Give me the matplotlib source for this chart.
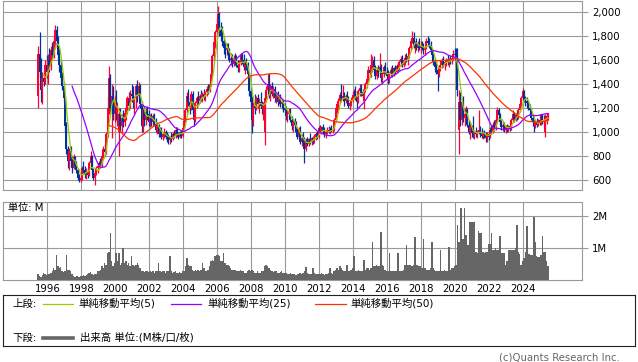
import numpy as np
import pandas as pd
import matplotlib
matplotlib.use("Agg")
import matplotlib.pyplot as plt
from matplotlib.lines import Line2D

plt.rcParams['font.family'] = ['DejaVu Sans', 'Noto Sans CJK JP']

# monthly candles, 1995-06 .. 2025-06 (one row per year)
opens = [
    1300, 1650, 1500, 1350, 1450, 1420, 1560,
    1500, 1600, 1550, 1680, 1640, 1760, 1850, 1760, 1640, 1560, 1450, 1380,
    1280, 1050, 860, 760, 840, 760, 700, 790, 720, 680, 620, 600,
    620, 700, 680, 650, 670, 640, 740, 800, 680, 620, 660, 700,
    720, 740, 720, 800, 860, 830, 980, 1200, 1450, 1200, 1300, 1150,
    1250, 1150, 1000, 1150, 1050, 1120, 1080, 1160, 1200, 1280, 1220, 1320,
    1300, 1250, 1280, 1380, 1300, 1380, 1230, 1050, 1180, 1100, 1170, 1150,
    1080, 1120, 1080, 1130, 1070, 1020, 1050, 980, 1020, 960, 980, 1000,
    960, 950, 930, 960, 940, 980, 970, 1020, 980, 960, 1000, 970,
    1030, 1090, 1180, 1300, 1250, 1200, 1320, 1180, 1100, 1240, 1280, 1260,
    1300, 1280, 1320, 1290, 1330, 1360, 1340, 1400, 1480, 1630, 1750, 1830,
    1900, 1980, 1850, 1800, 1760, 1700, 1680, 1700, 1650, 1600, 1620, 1570,
    1610, 1580, 1560, 1530, 1580, 1640, 1600, 1540, 1580, 1560, 1480, 1340,
    1250, 1100, 1220, 1200, 1280, 1230, 1250, 1220, 1190, 1000, 1280, 1350,
    1400, 1300, 1380, 1320, 1360, 1280, 1300, 1250, 1290, 1230, 1250, 1200,
    1180, 1130, 1150, 1170, 1100, 1050, 1080, 1060, 1000, 960, 1020, 920,
    950, 920, 860, 930, 900, 940, 920, 950, 930, 960, 980, 960,
    1030, 1010, 1040, 1010, 980, 1000, 1020, 1000, 1030, 1010, 1020, 1100,
    1200, 1230, 1260, 1310, 1280, 1300, 1260, 1300, 1280, 1220, 1240, 1270,
    1310, 1340, 1300, 1250, 1340, 1370, 1330, 1260, 1350, 1400, 1440, 1520,
    1490, 1560, 1600, 1520, 1470, 1520, 1500, 1540, 1450, 1480, 1540, 1500,
    1470, 1440, 1480, 1520, 1480, 1530, 1500, 1550, 1530, 1580, 1610, 1560,
    1600, 1620, 1600, 1630, 1700, 1760, 1780, 1720, 1740, 1700, 1740, 1700,
    1720, 1700, 1680, 1700, 1760, 1740, 1720, 1680, 1640, 1580, 1540, 1520,
    1480, 1540, 1560, 1600, 1560, 1580, 1600, 1580, 1610, 1590, 1620, 1650,
    1640, 1600, 1020, 1250, 1100, 1250, 1120, 1150, 1180, 1060, 1000, 1040,
    990, 980, 1000, 980, 1000, 1020, 990, 970, 990, 980, 950, 980,
    960, 1020, 1000, 1060, 1030, 1100, 1180, 1140, 1080, 1040, 1060, 1020,
    1040, 1020, 1050, 1030, 1100, 1150, 1110, 1140, 1120, 1180, 1230, 1280,
    1340, 1270, 1260, 1240, 1200, 1180, 1120, 1080, 1050, 1080, 1060, 1100,
    1080, 1130, 1100, 1000, 1090, 1130,
]
highs = [
    1720, 1830, 1620, 1500, 1520, 1600, 1640,
    1650, 1700, 1720, 1750, 1800, 1890, 1880, 1800, 1700, 1600, 1500, 1420,
    1300, 1080, 880, 870, 880, 800, 820, 800, 760, 700, 650, 640,
    720, 760, 720, 700, 700, 760, 840, 810, 700, 680, 720, 740,
    760, 780, 820, 880, 900, 1000, 1300, 1550, 1480, 1400, 1380, 1300,
    1350, 1250, 1200, 1200, 1150, 1180, 1200, 1250, 1300, 1330, 1350, 1400,
    1380, 1300, 1400, 1430, 1420, 1400, 1260, 1200, 1220, 1200, 1220, 1180,
    1150, 1160, 1150, 1160, 1120, 1080, 1070, 1040, 1040, 1000, 1030, 1020,
    1000, 980, 970, 1000, 1000, 1020, 1040, 1040, 1000, 1010, 1020, 1040,
    1100, 1200, 1330, 1360, 1300, 1340, 1340, 1220, 1260, 1300, 1340, 1320,
    1350, 1330, 1360, 1340, 1380, 1400, 1420, 1500, 1650, 1780, 1850, 1950,
    2050, 2000, 1920, 1880, 1800, 1760, 1740, 1740, 1700, 1660, 1650, 1640,
    1660, 1640, 1600, 1600, 1660, 1660, 1650, 1600, 1620, 1580, 1500, 1380,
    1300, 1250, 1320, 1300, 1320, 1280, 1330, 1260, 1250, 1300, 1380, 1480,
    1490, 1400, 1420, 1380, 1380, 1330, 1340, 1310, 1320, 1270, 1270, 1240,
    1220, 1180, 1200, 1200, 1130, 1100, 1120, 1090, 1040, 1040, 1050, 980,
    1000, 960, 950, 960, 950, 990, 960, 970, 980, 1000, 1010, 1050,
    1060, 1050, 1070, 1040, 1020, 1040, 1050, 1040, 1060, 1040, 1120, 1220,
    1250, 1280, 1330, 1400, 1390, 1330, 1320, 1340, 1300, 1260, 1290, 1330,
    1360, 1380, 1340, 1360, 1400, 1400, 1360, 1380, 1420, 1460, 1550, 1560,
    1650, 1630, 1630, 1560, 1540, 1560, 1660, 1570, 1500, 1560, 1580, 1540,
    1520, 1500, 1540, 1560, 1540, 1560, 1570, 1580, 1600, 1630, 1640, 1620,
    1650, 1660, 1640, 1720, 1780, 1840, 1830, 1760, 1780, 1760, 1780, 1760,
    1760, 1740, 1720, 1780, 1800, 1780, 1760, 1700, 1660, 1620, 1580, 1540,
    1560, 1600, 1620, 1630, 1600, 1620, 1640, 1620, 1640, 1640, 1680, 1700,
    1700, 1700, 1350, 1330, 1280, 1300, 1200, 1220, 1200, 1100, 1080, 1060,
    1130, 1020, 1040, 1020, 1180, 1050, 1030, 1010, 1020, 1000, 1000, 1010,
    1040, 1060, 1080, 1100, 1120, 1210, 1200, 1160, 1100, 1080, 1080, 1060,
    1070, 1060, 1080, 1120, 1180, 1170, 1160, 1180, 1200, 1250, 1300, 1370,
    1350, 1300, 1290, 1270, 1230, 1200, 1150, 1100, 1100, 1120, 1110, 1150,
    1150, 1150, 1140, 1150, 1150, 1160,
]
lows = [
    1200, 1450, 1250, 1230, 1380, 1400, 1450,
    1400, 1500, 1520, 1600, 1620, 1700, 1700, 1600, 1500, 1400, 1350, 1250,
    1000, 820, 700, 680, 720, 660, 690, 700, 660, 600, 580, 585,
    600, 660, 620, 610, 620, 630, 720, 650, 600, 560, 640, 660,
    690, 700, 710, 780, 800, 820, 960, 1150, 1150, 950, 1100, 1080,
    1100, 1050, 800, 1000, 980, 1040, 1050, 1100, 1150, 1180, 1200, 1250,
    1200, 1150, 1200, 1250, 1280, 1200, 1000, 1000, 1050, 1060, 1100, 1050,
    1040, 1050, 1050, 1050, 1000, 980, 960, 960, 940, 930, 950, 940,
    920, 900, 900, 920, 930, 950, 950, 960, 940, 950, 950, 960,
    1010, 1080, 1160, 1220, 1150, 1180, 1150, 1050, 1080, 1200, 1230, 1240,
    1260, 1250, 1270, 1260, 1300, 1320, 1330, 1380, 1470, 1600, 1700, 1800,
    1850, 1800, 1760, 1720, 1650, 1620, 1640, 1620, 1580, 1560, 1540, 1550,
    1560, 1540, 1500, 1500, 1560, 1570, 1520, 1480, 1520, 1460, 1300, 1200,
    990, 1050, 1150, 1180, 1200, 1160, 1200, 1150, 1100, 890, 1250, 1320,
    1280, 1260, 1300, 1280, 1250, 1240, 1220, 1230, 1210, 1190, 1170, 1150,
    1100, 1080, 1120, 1080, 1020, 1000, 1030, 980, 940, 940, 900, 880,
    900, 740, 840, 880, 880, 900, 890, 900, 910, 930, 940, 950,
    990, 980, 1000, 960, 950, 980, 990, 980, 1000, 990, 1010, 1090,
    1160, 1180, 1240, 1260, 1260, 1220, 1240, 1260, 1200, 1180, 1220, 1250,
    1280, 1270, 1200, 1240, 1300, 1300, 1280, 1190, 1330, 1370, 1420, 1460,
    1460, 1500, 1500, 1440, 1440, 1460, 1480, 1420, 1400, 1460, 1480, 1440,
    1400, 1410, 1460, 1460, 1470, 1480, 1490, 1510, 1520, 1550, 1540, 1540,
    1560, 1580, 1560, 1620, 1680, 1740, 1700, 1660, 1680, 1670, 1680, 1660,
    1680, 1650, 1640, 1690, 1720, 1700, 1660, 1620, 1560, 1500, 1480, 1340,
    1460, 1510, 1530, 1540, 1520, 1550, 1560, 1540, 1570, 1570, 1600, 1610,
    1560, 1300, 820, 1050, 1060, 1080, 1050, 1080, 1040, 980, 940, 960,
    950, 940, 960, 950, 980, 960, 950, 940, 950, 920, 920, 930,
    950, 980, 990, 1010, 1020, 1090, 1100, 1060, 1020, 1010, 1000, 990,
    1000, 1000, 1010, 1020, 1080, 1080, 1090, 1100, 1110, 1170, 1200, 1260,
    1250, 1220, 1200, 1180, 1150, 1100, 1050, 1000, 1030, 1040, 1050, 1060,
    1060, 1070, 1040, 960, 1070, 1100,
]
closes = [
    1650, 1500, 1350, 1450, 1420, 1560, 1500,
    1600, 1550, 1680, 1640, 1760, 1850, 1760, 1640, 1560, 1450, 1380, 1280,
    1050, 860, 760, 840, 760, 700, 790, 720, 680, 620, 600, 620,
    700, 680, 650, 670, 640, 740, 800, 680, 620, 660, 700, 720,
    740, 720, 800, 860, 830, 980, 1200, 1450, 1200, 1300, 1150, 1250,
    1150, 1200, 1150, 1050, 1120, 1080, 1160, 1200, 1280, 1220, 1320, 1300,
    1250, 1280, 1380, 1300, 1380, 1230, 1050, 1180, 1100, 1170, 1150, 1080,
    1120, 1080, 1130, 1070, 1020, 1050, 980, 1020, 960, 980, 1000, 960,
    950, 930, 960, 940, 980, 970, 1020, 980, 960, 1000, 970, 1030,
    1090, 1180, 1300, 1250, 1200, 1320, 1180, 1100, 1240, 1280, 1260, 1300,
    1280, 1320, 1290, 1330, 1360, 1340, 1400, 1480, 1630, 1750, 1830, 1900,
    1980, 1850, 1800, 1760, 1700, 1680, 1700, 1650, 1600, 1620, 1570, 1610,
    1580, 1560, 1530, 1580, 1640, 1600, 1540, 1580, 1560, 1480, 1340, 1250,
    1100, 1220, 1200, 1280, 1230, 1250, 1220, 1190, 1220, 1280, 1350, 1400,
    1300, 1380, 1320, 1360, 1280, 1300, 1250, 1290, 1230, 1250, 1200, 1180,
    1130, 1150, 1170, 1100, 1050, 1080, 1060, 1000, 960, 1020, 920, 950,
    920, 860, 930, 900, 940, 920, 950, 930, 960, 980, 960, 1030,
    1010, 1040, 1010, 980, 1000, 1020, 1000, 1030, 1010, 1020, 1100, 1200,
    1230, 1260, 1310, 1280, 1300, 1260, 1300, 1280, 1220, 1240, 1270, 1310,
    1340, 1300, 1250, 1340, 1370, 1330, 1300, 1350, 1400, 1440, 1520, 1490,
    1560, 1600, 1520, 1470, 1520, 1500, 1540, 1450, 1480, 1540, 1500, 1470,
    1440, 1480, 1520, 1480, 1530, 1500, 1550, 1530, 1580, 1610, 1560, 1600,
    1620, 1600, 1630, 1700, 1760, 1780, 1720, 1740, 1700, 1740, 1700, 1720,
    1700, 1680, 1700, 1760, 1740, 1720, 1680, 1640, 1580, 1540, 1520, 1480,
    1540, 1560, 1600, 1560, 1580, 1600, 1580, 1610, 1590, 1620, 1650, 1640,
    1600, 1350, 1250, 1100, 1250, 1120, 1150, 1180, 1060, 1000, 1040, 990,
    980, 1000, 980, 1000, 1020, 990, 970, 990, 980, 950, 980, 960,
    1020, 1000, 1060, 1030, 1100, 1180, 1140, 1080, 1040, 1060, 1020, 1040,
    1020, 1050, 1030, 1100, 1150, 1110, 1140, 1120, 1180, 1230, 1280, 1340,
    1270, 1260, 1240, 1200, 1180, 1120, 1080, 1050, 1080, 1060, 1100, 1080,
    1130, 1100, 1080, 1120, 1130, 1150,
]
# volume (M)
volume = [
    0.2, 0.15, 0.12, 0.18, 0.25, 0.2, 0.18,
    0.22, 0.2, 0.25, 0.3, 0.4, 0.35, 0.8, 0.45, 0.4, 0.42, 0.3, 0.28,
    0.3, 0.8, 0.35, 0.33, 0.32, 0.2, 0.15, 0.12, 0.14, 0.15, 0.12, 0.15,
    0.15, 0.18, 0.15, 0.17, 0.2, 0.25, 0.28, 0.2, 0.18, 0.22, 0.2, 0.3,
    0.3, 0.35, 0.45, 0.4, 0.55, 0.5, 0.85, 0.9, 1.47, 0.6, 0.45, 0.55,
    0.85, 0.6, 0.85, 0.5, 0.55, 1.0, 0.55, 0.6, 0.5, 0.55, 0.45, 0.75,
    0.5, 0.45, 0.5, 0.55, 0.5, 0.4, 0.3, 0.3, 0.28, 0.3, 0.3, 0.28,
    0.3, 0.28, 0.3, 0.25, 0.3, 0.3, 0.55, 0.3, 0.28, 0.3, 0.3, 0.25,
    0.3, 0.3, 0.75, 0.3, 0.25, 0.28, 0.3, 0.25, 0.25, 0.28, 0.25, 0.3,
    0.3, 0.45, 0.7, 0.5, 0.45, 0.45, 0.35, 0.3, 0.35, 0.3, 0.35, 0.3,
    0.35, 0.55, 0.4, 0.3, 0.3, 0.35, 0.45, 0.6, 0.65, 0.6, 0.75, 0.8,
    0.8, 0.75, 0.6, 0.6, 0.85, 0.55, 0.5, 0.5, 0.45, 0.4, 0.35, 0.35,
    0.35, 0.3, 0.3, 0.3, 0.35, 0.3, 0.3, 0.25, 0.25, 0.3, 0.35, 0.3,
    0.35, 0.3, 0.25, 0.25, 0.3, 0.25, 0.25, 0.3, 0.3, 0.45, 0.5, 0.45,
    0.4, 0.35, 0.3, 0.28, 0.3, 0.3, 0.25, 0.25, 0.28, 0.3, 0.25, 0.25,
    0.25, 0.22, 0.2, 0.25, 0.22, 0.2, 0.2, 0.18, 0.2, 0.22, 0.25, 0.2,
    0.25, 0.3, 0.42, 0.25, 0.22, 0.2, 0.2, 0.4, 0.25, 0.2, 0.2, 0.22,
    0.2, 0.25, 0.22, 0.18, 0.2, 0.2, 0.25, 0.4, 0.25, 0.2, 0.3, 0.35,
    0.4, 0.35, 0.45, 0.4, 0.35, 0.3, 0.3, 0.5, 0.3, 0.3, 0.35, 0.4,
    0.75, 0.3, 0.3, 0.35, 0.3, 0.3, 0.3, 0.65, 0.35, 0.4, 0.4, 0.35,
    0.4, 1.2, 0.45, 0.45, 0.5, 0.45, 0.45, 1.5, 0.5, 0.45, 0.35, 0.3,
    0.3, 0.85, 0.3, 0.3, 0.3, 0.3, 0.3, 0.85, 0.3, 0.3, 0.3, 0.35,
    0.5, 1.1, 0.5, 0.5, 0.5, 0.45, 0.5, 1.35, 0.5, 0.5, 0.45, 0.45,
    0.4, 1.3, 0.4, 0.35, 0.35, 0.35, 0.4, 1.2, 0.4, 0.35, 0.3, 0.3,
    0.3, 0.95, 0.3, 0.3, 0.35, 0.3, 0.3, 1.03, 0.35, 0.4, 0.4, 0.45,
    0.5, 1.73, 1.2, 2.25, 2.25, 1.3, 2.25, 1.4, 1.1, 1.1, 1.81, 1.81,
    1.81, 1.81, 0.9, 0.85, 1.53, 1.46, 1.46, 0.9, 0.85, 0.9, 0.9, 1.12,
    1.12, 1.46, 0.95, 0.95, 1.0, 0.95, 0.95, 1.38, 0.85, 0.85, 0.85, 0.49,
    0.6, 0.95, 0.95, 0.95, 0.95, 0.95, 1.0, 1.73, 0.9, 0.82, 0.49, 0.6,
    0.7, 0.9, 1.68, 0.82, 0.82, 0.8, 0.8, 1.95, 1.18, 0.75, 0.74, 0.74,
    0.8, 1.38, 0.9, 0.9, 0.6, 0.45,
]

dates = pd.date_range('1995-06-01', '2025-06-01', freq='MS')
t = np.array(dates.year + (dates.month - 0.5) / 12.0)

o = np.array(opens, float)
h = np.array(highs, float)
l = np.array(lows, float)
c = np.array(closes, float)
v = np.array(volume, float)

ma5 = pd.Series(c).rolling(5).mean()
ma25 = pd.Series(c).rolling(25).mean()
ma50 = pd.Series(c).rolling(50).mean()

UP = '#ff0033'
DOWN = '#003399'
GRID = '#999999'

W, H = 638, 362
fig = plt.figure(figsize=(W / 100, H / 100), dpi=100)


def px_axes(x0, y0, x1, y1):
    return fig.add_axes([x0 / W, 1 - y1 / H, (x1 - x0) / W, (y1 - y0) / H])


xmin, xmax = 1993.41, 2027.47
years = np.arange(1996, 2025, 2)

# price panel
ax = px_axes(3.3, 0.5, 582.3, 190)
cols = np.where(c >= o, UP, DOWN)
ax.vlines(t, l, h, colors=cols, lw=0.9, zorder=3)
body = np.maximum(np.abs(c - o), 6)
ax.bar(t, body, bottom=np.minimum(o, c), width=0.12, color=cols,
       linewidth=0, zorder=3)
ax.plot(t, ma5, color='#99cc00', lw=0.9, zorder=4)
ax.plot(t, ma25, color='#9900ff', lw=0.9, zorder=4)
ax.plot(t, ma50, color='#ff3300', lw=0.9, zorder=4)
ax.set_xlim(xmin, xmax)
ax.set_ylim(516.7, 2095.8)
ax.set_yticks(np.arange(600, 2001, 200))
ax.set_yticklabels(['{:,}'.format(x) for x in range(600, 2001, 200)])
ax.set_xticks(years)
ax.tick_params(axis='x', length=0, labelbottom=False)

# volume panel
ax2 = px_axes(3.3, 202.3, 582.3, 280)
ax2.bar(t, v, width=1 / 12, color='#666666', linewidth=0, zorder=3)
ax2.set_xlim(xmin, xmax)
ax2.set_ylim(0.03, 2.41)
ax2.set_yticks([1, 2])
ax2.set_yticklabels(['1M', '2M'])
ax2.set_xticks(years)
ax2.set_xticklabels([str(y) for y in years])
ax2.tick_params(axis='x', length=0, pad=3, labelsize=7.3)

for a in (ax, ax2):
    a.grid(True, color=GRID, lw=0.8, zorder=0)
    for s in a.spines.values():
        s.set_color(GRID)
        s.set_linewidth(0.8)
    a.tick_params(axis='y', left=False, labelleft=False, right=True,
                  labelright=True, length=4.5, width=0.8, color=GRID,
                  pad=2.5, labelsize=7.3)

fig.text(8 / W, 1 - 208 / H, '単位: M', fontsize=7.3, va='center', ha='left')

# legend box
lg = px_axes(3.3, 295, 635.3, 346)
lg.set_xlim(0, 632)
lg.set_ylim(51, 0)
lg.set_xticks([])
lg.set_yticks([])
for s in lg.spines.values():
    s.set_color('#222222')
    s.set_linewidth(0.8)
fs = 7.5
y1, y2 = 8.5, 42.7
lg.text(9, y1, '上段:', fontsize=fs, va='center')
lg.add_line(Line2D([39.7, 69.7], [y1, y1], color='#99cc00', lw=0.9))
lg.text(74.7, y1, '単純移動平均(5)', fontsize=fs, va='center')
lg.add_line(Line2D([167.7, 197.7], [y1, y1], color='#9900ff', lw=0.9))
lg.text(203.7, y1, '単純移動平均(25)', fontsize=fs, va='center')
lg.add_line(Line2D([311.7, 342.4], [y1, y1], color='#ff3300', lw=0.9))
lg.text(346.7, y1, '単純移動平均(50)', fontsize=fs, va='center')
lg.text(9, y2, '下段:', fontsize=fs, va='center')
lg.add_line(Line2D([39.7, 69.7], [y2, y2], color='#666666', lw=2.6))
lg.text(76.7, y2, '出来高 単位:(M株/口/枚)', fontsize=fs, va='center')

fig.text(620 / W, 1 - 357 / H, '(c)Quants Research Inc.', fontsize=7.3,
         color='#666666', ha='right', va='center')

fig.savefig('out.png', dpi=100)
